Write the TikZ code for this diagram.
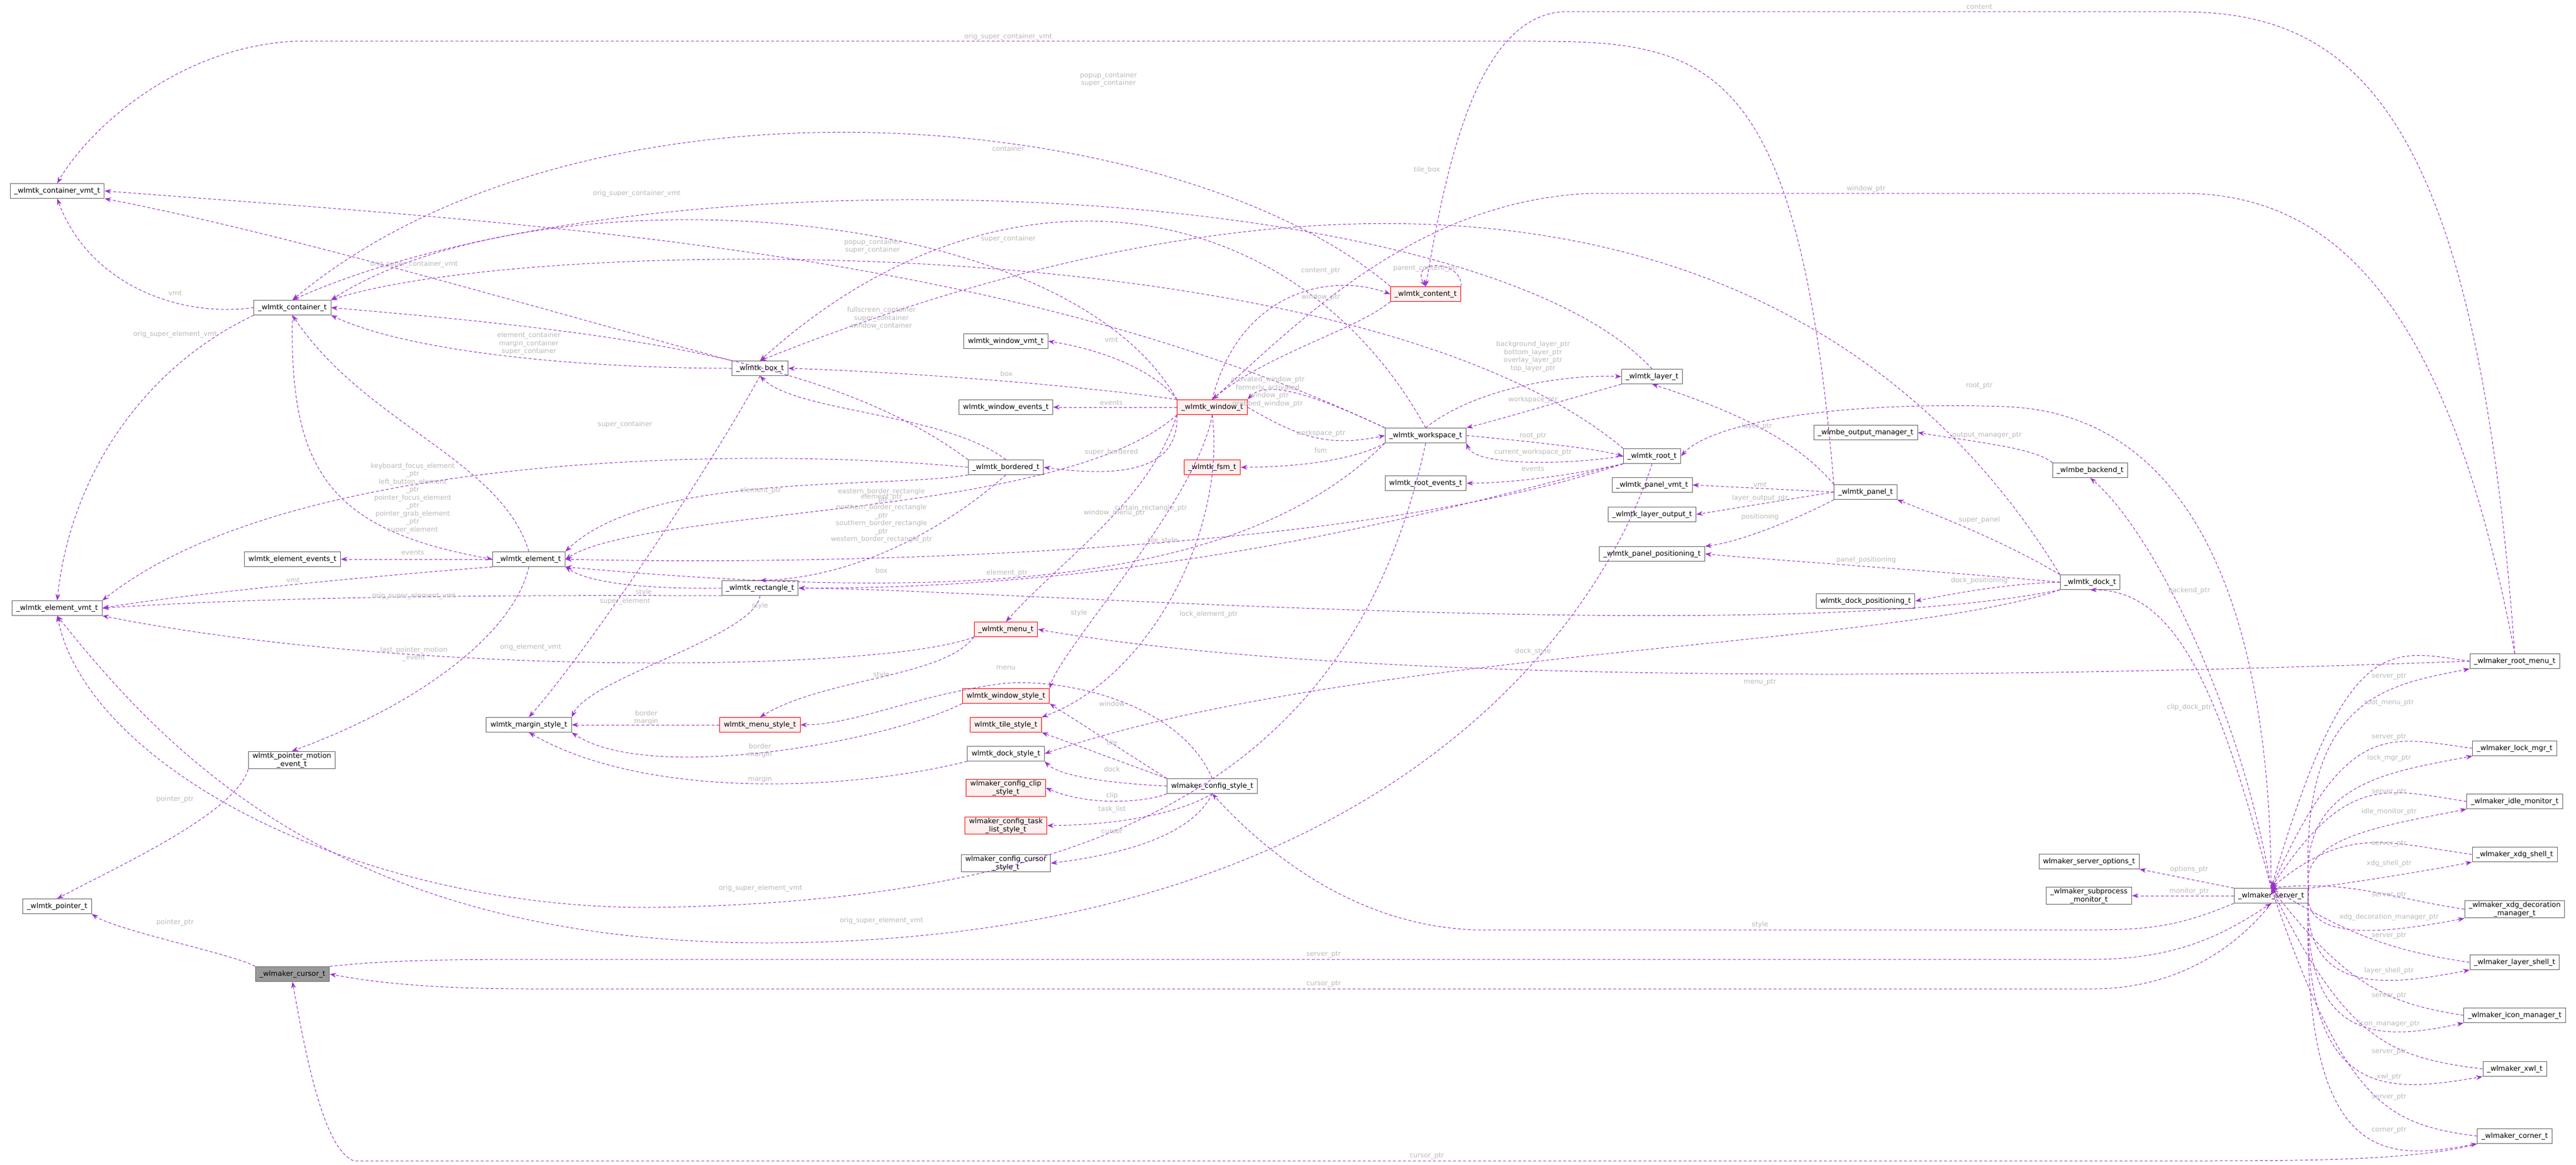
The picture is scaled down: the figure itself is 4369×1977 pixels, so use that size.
\documentclass[tikz,border=0pt]{standalone}
\usepackage{fontspec}
\setmainfont{DejaVu Sans}
\usetikzlibrary{arrows.meta}
\definecolor{ec}{HTML}{9A32CD}
\definecolor{lc}{HTML}{B8B8B8}
\definecolor{rf}{HTML}{FFF0F0}
\tikzset{
 nb/.style={draw=black!60,fill=white,line width=1pt,font=\fontsize{12}{14}\selectfont,inner xsep=7pt,inner ysep=2pt,minimum height=25pt,align=center},
 rb/.style={nb,draw=red,fill=rf},
 gb/.style={nb,fill=black!40},
 e/.style={draw=ec,line width=1pt,dash pattern=on 5pt off 3.5pt,-{Stealth[length=11pt,width=8pt]}},
 lb/.style={text=lc,font=\fontsize{11.5}{13.5}\selectfont,align=center,inner sep=1pt}
}
\begin{document}
\begin{tikzpicture}[x=1pt,y=-1pt]
\useasboundingbox (0,0) rectangle (4369,1977);
% nodes
\node[nb] (cvmt) at (97,324) {\_wlmtk\_container\_vmt\_t};
\node[nb] (cont) at (496,522) {\_wlmtk\_container\_t};
\node[nb] (eev) at (496,949) {wlmtk\_element\_events\_t};
\node[nb] (elem) at (897,949) {\_wlmtk\_element\_t};
\node[nb] (evmt) at (97,1032) {\_wlmtk\_element\_vmt\_t};
\node[nb] (pme) at (495,1290) {wlmtk\_pointer\_motion\\\_event\_t};
\node[nb] (margin) at (897,1230) {wlmtk\_margin\_style\_t};
\node[rb] (mstyle) at (1289,1230) {wlmtk\_menu\_style\_t};
\node[rb] (menu) at (1706,1068) {\_wlmtk\_menu\_t};
\node[rb] (wstyle) at (1706,1181) {wlmtk\_window\_style\_t};
\node[rb] (tstyle) at (1706,1230) {wlmtk\_tile\_style\_t};
\node[nb] (dstyle) at (1706,1279) {wlmtk\_dock\_style\_t};
\node[rb] (clip) at (1706,1337) {wlmaker\_config\_clip\\\_style\_t};
\node[rb] (task) at (1706,1401) {wlmaker\_config\_task\\\_list\_style\_t};
\node[nb] (ccur) at (1706,1465) {wlmaker\_config\_cursor\\\_style\_t};
\node[nb] (cstyle) at (2056,1334) {wlmaker\_config\_style\_t};
\node[nb] (ptr) at (97,1538) {\_wlmtk\_pointer\_t};
\node[gb] (cursor) at (496,1653) {\_wlmaker\_cursor\_t};
\node[nb] (wvmt) at (1706,579) {wlmtk\_window\_vmt\_t};
\node[nb] (box) at (1289,625) {\_wlmtk\_box\_t};
\node[nb] (wev) at (1706,691) {wlmtk\_window\_events\_t};
\node[rb] (win) at (2056,691) {\_wlmtk\_window\_t};
\node[nb] (bord) at (1706,793) {\_wlmtk\_bordered\_t};
\node[rb] (fsm) at (2056,793) {\_wlmtk\_fsm\_t};
\node[nb] (rect) at (1289,998) {\_wlmtk\_rectangle\_t};
\node[rb] (content) at (2418,499) {\_wlmtk\_content\_t};
\node[nb] (ws) at (2418,739) {\_wlmtk\_workspace\_t};
\node[nb] (layer) at (2802,639) {\_wlmtk\_layer\_t};
\node[nb] (root) at (2802,774) {\_wlmtk\_root\_t};
\node[nb] (rev) at (2418,820) {wlmtk\_root\_events\_t};
\node[nb] (pvmt) at (2802,823) {\_wlmtk\_panel\_vmt\_t};
\node[nb] (lout) at (2802,873) {\_wlmtk\_layer\_output\_t};
\node[nb] (ppos) at (2802,940) {\_wlmtk\_panel\_positioning\_t};
\node[nb] (panel) at (3164,835) {\_wlmtk\_panel\_t};
\node[nb] (outm) at (3164,734) {\_wlmbe\_output\_manager\_t};
\node[nb] (backend) at (3545,798) {\_wlmbe\_backend\_t};
\node[nb] (dock) at (3545,988) {\_wlmtk\_dock\_t};
\node[nb] (dpos) at (3164,1020) {wlmtk\_dock\_positioning\_t};
\node[nb] (rmenu) at (4265,1122) {\_wlmaker\_root\_menu\_t};
\node[nb] (lock) at (4265,1270) {\_wlmaker\_lock\_mgr\_t};
\node[nb] (idle) at (4265,1360) {\_wlmaker\_idle\_monitor\_t};
\node[nb] (xdg) at (4265,1450) {\_wlmaker\_xdg\_shell\_t};
\node[nb] (xdgd) at (4265,1543) {\_wlmaker\_xdg\_decoration\\\_manager\_t};
\node[nb] (lsh) at (4265,1633) {\_wlmaker\_layer\_shell\_t};
\node[nb] (icon) at (4265,1723) {\_wlmaker\_icon\_manager\_t};
\node[nb] (xwl) at (4265,1814) {\_wlmaker\_xwl\_t};
\node[nb] (corner) at (4265,1928) {\_wlmaker\_corner\_t};
\node[nb] (server) at (3852,1520) {\_wlmaker\_server\_t};
\node[nb] (sopt) at (3543,1462) {wlmaker\_server\_options\_t};
\node[nb] (sub) at (3543,1520) {\_wlmaker\_subprocess\\\_monitor\_t};

% edges: container area
\draw[e] (cont.west) .. controls (300,540) and (150,480) .. (cvmt.south);
\node[lb] at (297,497) {vmt};
\draw[e] (cont.south west) .. controls (250,620) and (120,800) .. (evmt.north);
\node[lb] at (297,567) {orig\_super\_element\_vmt};
\draw[e] (box.north west) .. controls (900,520) and (500,400) .. (cvmt.south east);
\node[lb] at (702,448) {orig\_super\_container\_vmt};
\draw[e] (ws.north west) .. controls (1700,420) and (900,380) .. (cvmt.east);
\node[lb] at (1080,328) {orig\_super\_container\_vmt};
\draw[e] (panel.north west) .. controls (3050,100) and (2900,70) .. (2600,70) -- (500,70) .. controls (300,80) and (150,220) .. (cvmt.north);
\node[lb] at (1710,62) {orig\_super\_container\_vmt};
\draw[e] (box.west) .. controls (1000,625) and (700,600) .. (cont.south east);
\node[lb] at (897,583) {element\_container\\margin\_container\\super\_container};
\draw[e] (elem.north) .. controls (850,780) and (620,720) .. (cont.south);
\draw[e] (cont.south) .. controls (490,800) and (560,900) .. (elem.west);
\node[lb] at (700,845) {keyboard\_focus\_element\\\_ptr\\left\_button\_element\\\_ptr\\pointer\_focus\_element\\\_ptr\\pointer\_grab\_element\\\_ptr\\super\_element};
\draw[e] (bord.north west) .. controls (1400,600) and (1000,560) .. (cont.east);
\node[lb] at (1060,720) {super\_container};
\draw[e] (win.north west) .. controls (1800,330) and (900,290) .. (cont.north east);
\node[lb] at (1480,418) {popup\_container\\super\_container};
\draw[e] (content.north west) .. controls (2000,180) and (1000,90) .. (cont.north);
\node[lb] at (1880,135) {popup\_container\\super\_container};
\draw[e] (layer.north) .. controls (2500,300) and (1100,240) .. (cont.north);
\node[lb] at (1710,252) {container};
\draw[e] (root.north west) .. controls (2300,380) and (900,400) .. (cont.north east);
\node[lb] at (1710,405) {super\_container};
\draw[e] (ws.north) .. controls (2200,330) and (1700,240) .. (box.north);
\node[lb] at (1495,540) {fullscreen\_container\\super\_container\\window\_container};
\draw[e] (dock.north west) .. controls (3100,330) and (2300,210) .. (box.north);
\node[lb] at (2420,288) {tile\_box};
% element
\draw[e] (elem.west) -- (eev.east);
\node[lb] at (700,938) {events};
\draw[e] (elem.south west) .. controls (600,980) and (300,1010) .. (evmt.east);
\node[lb] at (497,984) {vmt};
\draw[e] (elem.south) .. controls (870,1080) and (700,1200) .. (pme.north);
\node[lb] at (702,1110) {last\_pointer\_motion\\\_event};
\draw[e] (rect.west) .. controls (1100,1000) and (1000,990) .. (elem.south east);
\node[lb] at (1060,1020) {super\_element};
\draw[e] (rect.south west) .. controls (900,1010) and (500,1010) .. (evmt.east);
\node[lb] at (702,1011) {orig\_super\_element\_vmt};
\draw[e] (menu.south west) .. controls (1500,1140) and (700,1150) .. (evmt.south east);
\node[lb] at (900,1098) {orig\_element\_vmt};
\draw[e] (bord.west) .. controls (1300,760) and (500,760) .. (evmt.north east);
\draw[e] (bord.south west) .. controls (1500,830) and (1100,800) .. (elem.north east);
\node[lb] at (1290,832) {element\_ptr};
\draw[e] (win.south west) .. controls (1800,880) and (1100,860) .. (elem.east);
\node[lb] at (1495,843) {element\_ptr};
\draw[e] (root.south west) .. controls (2300,940) and (1400,960) .. (elem.east);
\node[lb] at (1708,972) {element\_ptr};
\draw[e] (ws.south west) .. controls (2100,1000) and (1600,1020) .. (elem.south east);
\node[lb] at (2050,1042) {lock\_element\_ptr};
\draw[e] (ws.south) .. controls (2300,1300) and (1900,1530) .. (1100,1540) .. controls (600,1540) and (150,1300) .. (evmt.south);
\node[lb] at (1290,1507) {orig\_super\_element\_vmt};
\draw[e] (root.south) .. controls (2700,1100) and (2300,1600) .. (1300,1600) .. controls (600,1600) and (300,1300) .. (evmt.south);
\node[lb] at (1495,1562) {orig\_super\_element\_vmt};
% bordered / box / rect
\draw[e] (bord.south) .. controls (1600,900) and (1450,980) .. (rect.north);
\node[lb] at (1495,875) {eastern\_border\_rectangle\\\_ptr\\northern\_border\_rectangle\\\_ptr\\southern\_border\_rectangle\\\_ptr\\western\_border\_rectangle\_ptr};
\draw[e] (bord.north) .. controls (1600,700) and (1350,700) .. (box.south);
\draw[e] (dock.south west) .. controls (3000,1100) and (1700,1000) .. (rect.east);
\node[lb] at (1495,968) {box};
\draw[e] (root.south west) .. controls (2500,850) and (2000,1000) .. (rect.east);
\node[lb] at (1952,862) {curtain\_rectangle\_ptr};
\draw[e] (box.south) .. controls (1200,800) and (1000,1100) .. (margin.north);
\node[lb] at (1092,1005) {style};
\draw[e] (rect.south) .. controls (1280,1080) and (1000,1150) .. (margin.north east);
\node[lb] at (1289,1028) {style};
% styles
\draw[e] (mstyle.west) -- (margin.east);
\node[lb] at (1096,1218) {border\\margin};
\draw[e] (wstyle.south west) .. controls (1500,1260) and (1100,1330) .. (margin.south east);
\node[lb] at (1289,1274) {border\\margin};
\draw[e] (dstyle.south west) .. controls (1450,1340) and (1100,1360) .. (margin.south);
\node[lb] at (1289,1322) {margin};
\draw[e] (menu.south west) .. controls (1600,1150) and (1400,1150) .. (mstyle.north);
\node[lb] at (1495,1145) {style};
\draw[e] (cstyle.north) .. controls (2000,1190) and (1800,1150) .. (1700,1160) .. controls (1550,1180) and (1450,1230) .. (mstyle.east);
\node[lb] at (1706,1133) {menu};
\draw[e] (cstyle.north west) -- (wstyle.south east);
\node[lb] at (1886,1194) {window};
\draw[e] (cstyle.north west) -- (tstyle.south east);
\node[lb] at (1886,1260) {tile};
\draw[e] (cstyle.west) .. controls (1900,1330) and (1800,1320) .. (dstyle.south east);
\node[lb] at (1886,1305) {dock};
\draw[e] (cstyle.south west) .. controls (1950,1360) and (1850,1370) .. (clip.east);
\node[lb] at (1886,1350) {clip};
\draw[e] (cstyle.south) .. controls (2000,1380) and (1900,1400) .. (task.east);
\node[lb] at (1886,1373) {task\_list};
\draw[e] (cstyle.south) .. controls (2020,1420) and (1900,1450) .. (ccur.east);
\node[lb] at (1886,1411) {cursor};
\draw[e] (win.south) .. controls (2030,850) and (1800,1100) .. (wstyle.north east);
\node[lb] at (1830,1040) {style};
\draw[e] (win.south) .. controls (2080,900) and (1950,1150) .. (tstyle.north east);
\node[lb] at (1972,917) {tile\_style};
\draw[e] (win.south west) .. controls (1950,850) and (1800,950) .. (menu.north);
\node[lb] at (1890,870) {window\_menu\_ptr};
\draw[e] (win.west) -- (wev.east);
\node[lb] at (1885,684) {events};
\draw[e] (win.north west) .. controls (1950,620) and (1850,590) .. (wvmt.east);
\node[lb] at (1885,576) {vmt};
\draw[e] (win.north west) .. controls (1800,650) and (1500,630) .. (box.east);
\node[lb] at (1707,634) {box};
\draw[e] (win.south west) .. controls (2000,800) and (1900,810) .. (bord.east);
\node[lb] at (1885,767) {super\_bordered};
% window / content / workspace
\draw[e] (content.south west) .. controls (2300,560) and (2150,600) .. (win.north);
\node[lb] at (2240,504) {window\_ptr};
\draw[e] (win.north) .. controls (2100,500) and (2250,460) .. (content.west);
\node[lb] at (2240,460) {content\_ptr};
\draw[e] (content.north east) .. controls (2480,440) and (2390,440) .. (content.north);
\node[lb] at (2418,456) {parent\_content\_ptr};
\draw[e] (ws.north west) .. controls (2250,680) and (2150,640) .. (win.north east);
\node[lb] at (2150,665) {activated\_window\_ptr\\formerly\_activated\\\_window\_ptr\\grabbed\_window\_ptr};
\draw[e] (win.east) .. controls (2200,740) and (2250,760) .. (ws.west);
\node[lb] at (2240,735) {workspace\_ptr};
\draw[e] (ws.south west) .. controls (2300,780) and (2200,793) .. (fsm.east);
\node[lb] at (2240,764) {fsm};
\draw[e] (ws.north) .. controls (2500,660) and (2650,635) .. (layer.west);
\node[lb] at (2600,605) {background\_layer\_ptr\\bottom\_layer\_ptr\\overlay\_layer\_ptr\\top\_layer\_ptr};
\draw[e] (layer.south west) .. controls (2650,680) and (2550,710) .. (ws.north east);
\node[lb] at (2600,678) {workspace\_ptr};
\draw[e] (ws.east) .. controls (2600,750) and (2700,760) .. (root.west);
\node[lb] at (2600,740) {root\_ptr};
\draw[e] (root.west) .. controls (2650,790) and (2500,790) .. (ws.south east);
\node[lb] at (2600,767) {current\_workspace\_ptr};
\draw[e] (root.south west) .. controls (2650,810) and (2550,820) .. (rev.east);
\node[lb] at (2600,796) {events};
\draw[e] (panel.north west) .. controls (3050,750) and (2950,700) .. (layer.south);
\node[lb] at (2980,723) {layer\_ptr};
\draw[e] (panel.west) -- (pvmt.east);
\node[lb] at (2985,822) {vmt};
\draw[e] (panel.west) -- (lout.east);
\node[lb] at (2985,845) {layer\_output\_ptr};
\draw[e] (panel.south west) .. controls (3050,880) and (2950,920) .. (ppos.north east);
\node[lb] at (2985,877) {positioning};
\draw[e] (dock.west) .. controls (3300,970) and (3000,950) .. (ppos.east);
\node[lb] at (3165,950) {panel\_positioning};
\draw[e] (dock.west) .. controls (3400,990) and (3300,1010) .. (dpos.east);
\node[lb] at (3357,985) {dock\_positioning};
\draw[e] (dock.north west) .. controls (3400,920) and (3300,880) .. (panel.south east);
\node[lb] at (3357,882) {super\_panel};
\draw[e] (dock.south west) .. controls (3200,1100) and (2300,1100) .. (dstyle.east);
\node[lb] at (2600,1105) {dock\_style};
\draw[e] (backend.north west) .. controls (3450,760) and (3350,750) .. (outm.east);
\node[lb] at (3370,739) {output\_manager\_ptr};
% root menu
\draw[e] (rmenu.north) .. controls (4200,200) and (4000,20) .. (3700,20) -- (2650,20) .. controls (2500,30) and (2450,300) .. (content.north);
\node[lb] at (3357,12) {content};
\draw[e] (rmenu.north) .. controls (4150,500) and (3950,328) .. (3700,328) -- (2700,328) .. controls (2400,340) and (2200,550) .. (win.north);
\node[lb] at (3165,320) {window\_ptr};
\draw[e] (rmenu.west) .. controls (3700,1140) and (2400,1180) .. (menu.east);
\node[lb] at (2985,1158) {menu\_ptr};
% server
\draw[e] (server.north) .. controls (3770,1200) and (3700,1000) .. (dock.south);
\node[lb] at (3713,1200) {clip\_dock\_ptr};
\draw[e] (server.north) .. controls (3800,1200) and (3650,900) .. (backend.south);
\node[lb] at (3713,1002) {backend\_ptr};
\draw[e] (server.north) .. controls (3850,1000) and (3700,700) .. (3400,690) .. controls (3100,680) and (2900,720) .. (root.east);
\node[lb] at (3357,655) {root\_ptr};
\draw[e] (server.north west) -- (sopt.south east);
\node[lb] at (3713,1475) {options\_ptr};
\draw[e] (server.west) -- (sub.east);
\node[lb] at (3713,1512) {monitor\_ptr};
\draw[e] (server.south west) .. controls (3700,1570) and (3650,1578) .. (3550,1578) -- (2500,1578) .. controls (2300,1570) and (2150,1450) .. (cstyle.south);
\node[lb] at (2985,1569) {style};
\draw[e] (cursor.north east) .. controls (650,1630) and (750,1628) .. (900,1628) -- (3550,1628) .. controls (3700,1628) and (3780,1580) .. (server.south);
\node[lb] at (2245,1620) {server\_ptr};
\draw[e] (server.south) .. controls (3800,1600) and (3700,1678) .. (3550,1678) -- (900,1678) .. controls (750,1678) and (650,1670) .. (cursor.east);
\node[lb] at (2245,1670) {cursor\_ptr};
\draw[e] (corner.south west) .. controls (4100,1970) and (3900,1970) .. (3700,1970) -- (600,1970) .. controls (550,1950) and (520,1800) .. (cursor.south);
\node[lb] at (2420,1962) {cursor\_ptr};
\draw[e] (cursor.north west) .. controls (400,1620) and (200,1580) .. (ptr.south east);
\node[lb] at (297,1565) {pointer\_ptr};
\draw[e] (pme.south west) .. controls (400,1380) and (200,1470) .. (ptr.north);
\node[lb] at (297,1356) {pointer\_ptr};
% server <-> right column
\foreach \n/\lbl/\y/\ly in {rmenu/root\_menu\_ptr/1122/1193, lock/lock\_mgr\_ptr/1270/1286, idle/idle\_monitor\_ptr/1360/1377, xdg/xdg\_shell\_ptr/1450/1465, xdgd/xdg\_decoration\_manager\_ptr/1543/1556, lsh/layer\_shell\_ptr/1633/1647, icon/icon\_manager\_ptr/1723/1737, xwl/xwl\_ptr/1814/1827, corner/corner\_ptr/1928/1918}{
 \draw[e] (\n.west) .. controls (4050,\y-20) and (3980,\y-50) .. (server.north);
 \draw[e] (server.north east) .. controls (3900,\y+60) and (4050,\y+40) .. (\n.south west);
 \node[lb] at (4052,\ly) {\lbl};
}
\foreach \ly in {1148,1251,1344,1432,1519,1588,1690,1785,1862}{\node[lb] at (4052,\ly) {server\_ptr};}
\end{tikzpicture}
\end{document}
